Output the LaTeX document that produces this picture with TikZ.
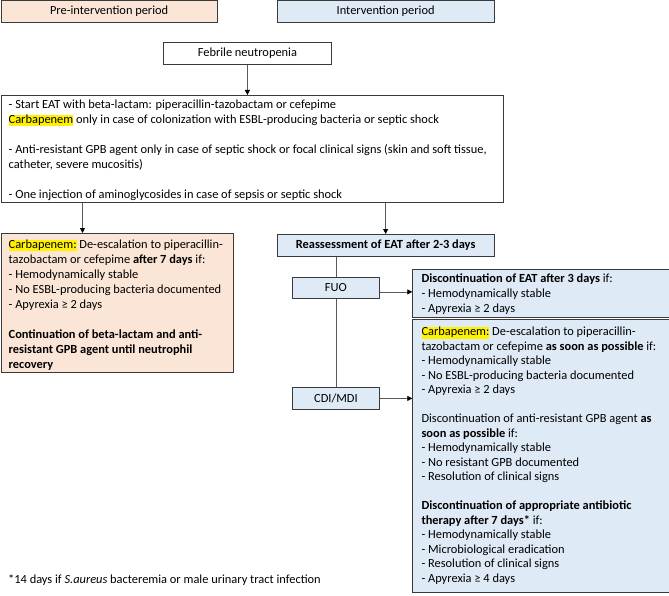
\documentclass[tikz,border=0pt]{standalone}
\usepackage{fontspec}
\setmainfont{Carlito}
\usetikzlibrary{arrows.meta,calc}
\definecolor{peach}{HTML}{FBE5D6}
\definecolor{lblue}{HTML}{DEEAF6}
\definecolor{bordc}{HTML}{3A3A3A}
\definecolor{linec}{HTML}{5A5A5A}
\newcommand\hly[1]{{\setlength{\fboxsep}{0pt}\colorbox{yellow}{\rule[-0.22em]{0pt}{0.92em}#1}}}
\begin{document}
\begin{tikzpicture}[x=1pt,y=-1pt,
  every node/.style={font=\fontsize{12.4}{15}\selectfont},
  box/.style={draw=bordc,line width=0.8pt,inner sep=0pt,anchor=north west},
  txt/.style={inner sep=0pt,anchor=north west,align=left},
  arr/.style={draw=linec,line width=0.8pt,-{Triangle[length=5pt,width=5pt,color=black]}},
  ln/.style={draw=linec,line width=0.8pt}]
\useasboundingbox (0,0) rectangle (669,596);
% header boxes
\node[box,fill=peach,minimum width=216.5,minimum height=21.5] (pre) at (0.5,0.5) {Pre-intervention period};
\node[box,fill=lblue,minimum width=216.5,minimum height=21.5] (inter) at (277,0.5) {Intervention period};
\node[box,fill=white,minimum width=168,minimum height=21.5] (feb) at (163,42.5) {Febrile neutropenia};
% main box
\node[box,fill=white,minimum width=502,minimum height=107] (main) at (0.5,95) {};
\node[txt] (mainT) at ([xshift=8pt,yshift=-2.5pt]main.north west) {\strut - Start EAT with beta-lactam: piperacillin-tazobactam or cefepime\\
\hly{Carbapenem} only in case of colonization with ESBL-producing bacteria or septic shock\\[15pt]
- Anti-resistant GPB agent only in case of septic shock or focal clinical signs (skin and soft tissue,\\
catheter, severe mucositis)\\[15pt]
- One injection of aminoglycosides in case of sepsis or septic shock};
% left box
\node[box,fill=peach,minimum width=232.5,minimum height=138.5] (left) at (0.5,233) {};
\node[txt] (leftT) at ([xshift=8pt,yshift=-4.5pt]left.north west) {\strut\hly{Carbapenem:} De-escalation to piperacillin-\\
tazobactam or cefepime \textbf{after 7 days} if:\\
- Hemodynamically stable\\
- No ESBL-producing bacteria documented\\
- Apyrexia ≥ 2 days\\[15pt]
\textbf{Continuation of beta-lactam and anti-}\\
\textbf{resistant GPB agent until neutrophil}\\
\textbf{recovery}};
% right column
\node[box,fill=lblue,minimum width=216.5,minimum height=21.7] (reass) at (277,234) {\textbf{Reassessment of EAT after 2-3 days}};
\node[box,fill=lblue,minimum width=87,minimum height=21] (fuo) at (292,277) {FUO};
\node[box,fill=lblue,minimum width=87,minimum height=22] (cdi) at (292,387) {CDI/MDI};
\node[box,fill=lblue,minimum width=256.2,minimum height=48] (disc) at (412.3,269.3) {};
\node[txt] (discT) at ([xshift=9pt,yshift=-2.2pt]disc.north west) {\strut\textbf{Discontinuation of EAT after 3 days} if:\\
- Hemodynamically stable\\
- Apyrexia ≥ 2 days};
\node[box,fill=lblue,minimum width=256.2,minimum height=272.7] (big) at (412.3,319.3) {};
\node[txt,font=\fontsize{12.4}{14.5}\selectfont] (bigT) at ([xshift=9pt,yshift=-6.2pt]big.north west) {\strut\hly{Carbapenem:} De-escalation to piperacillin-\\
tazobactam or cefepime \textbf{as soon as possible} if:\\
- Hemodynamically stable\\
- No ESBL-producing bacteria documented\\
- Apyrexia ≥ 2 days\\[14.5pt]
Discontinuation of anti-resistant GPB agent \textbf{as}\\
\textbf{soon as possible} if:\\
- Hemodynamically stable\\
- No resistant GPB documented\\
- Resolution of clinical signs\\[14.5pt]
\textbf{Discontinuation of appropriate antibiotic}\\
\textbf{therapy after 7 days*} if:\\
- Hemodynamically stable\\
- Microbiological eradication\\
- Resolution of clinical signs\\
- Apyrexia ≥ 4 days};
% footnote
\node[inner sep=0pt,anchor=base west] (foot) at (8,583) {*14 days if \textit{S.aureus} bacteremia or male urinary tract infection};
% connectors
\coordinate (lx) at (82.5,0);
\draw[arr] (feb.south) -- (feb.south |- main.north);
\draw[arr] (lx |- main.south) -- (lx |- left.north);
\draw[arr] (reass.north |- main.south) -- (reass.north);
\draw[ln] (fuo.north |- reass.south) -- (fuo.north);
\draw[ln] (fuo.south) -- (cdi.north);
\draw[arr] ([yshift=-4pt]fuo.east) -- ([yshift=-4pt]fuo.east -| disc.west);
\draw[arr] (cdi.east) -- (cdi.east -| big.west);
\end{tikzpicture}
\end{document}
